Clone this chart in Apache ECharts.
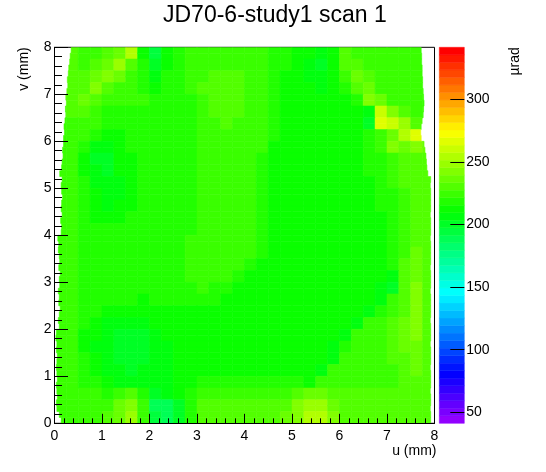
<!DOCTYPE html>
<html>
<head>
<meta charset="utf-8">
<script src="https://cdn.jsdelivr.net/npm/echarts@6/dist/echarts.min.js"></script>
<style>
html, body { margin: 0; padding: 0; background: #fff; }
#main { width: 546px; height: 472px; }
</style>
</head>
<body>
<div id="main"></div>
<script>
// cell size of the map, mm
var cellSize = 0.25;
// colour scale range (µrad) and number of palette levels
var zMin = 41.2;
var zMax = 341.5;
var nLevels = 50;
var zTicks = [50, 100, 150, 200, 250, 300];

// measured deflection, µrad; first row is the top (v = 7.75..8), columns u = 0..8
var rows = [
  [228,228,226,226,228,236,252,210,196,210,218,222,226,226,226,226,226,226,220,220,214,210,208,214,228,222,222,222,222,222,222,222],
  [228,228,226,228,236,246,232,218,200,214,220,222,226,226,226,226,226,226,220,216,212,206,200,210,232,228,222,222,222,222,222,222],
  [228,228,228,234,244,234,224,220,208,216,220,222,226,228,230,228,226,226,220,214,212,208,204,212,222,236,228,222,222,222,222,222],
  [228,228,232,242,232,226,222,220,214,218,220,222,228,232,232,230,226,224,218,214,212,210,208,212,218,232,238,226,222,222,222,222],
  [228,228,238,230,224,222,222,222,218,220,220,220,226,230,232,230,226,224,218,212,212,212,212,212,214,220,240,236,224,224,224,224],
  [226,228,230,224,220,220,220,220,220,220,220,220,224,228,230,228,224,222,216,212,212,212,212,212,212,214,204,258,240,228,224,224],
  [226,226,226,222,218,218,218,218,220,220,220,220,224,226,228,226,224,222,216,212,212,212,212,212,212,210,202,266,258,248,232,232],
  [226,226,222,216,212,214,216,218,220,220,220,220,224,224,224,224,224,222,216,212,212,212,212,212,212,214,218,226,236,252,264,240],
  [224,224,218,208,206,212,216,218,220,220,220,220,224,224,224,224,224,222,212,212,212,212,212,212,212,212,216,222,240,234,244,236],
  [224,224,214,202,200,210,214,218,220,220,220,220,224,224,224,224,224,220,212,212,212,212,212,212,212,212,216,220,226,228,232,230],
  [224,224,214,204,202,210,214,218,220,220,220,220,226,226,226,226,226,220,212,212,212,212,212,212,212,212,216,220,224,228,230,230],
  [224,224,216,206,204,208,214,218,220,220,220,220,226,226,226,226,226,220,212,212,212,212,212,212,212,212,214,218,222,228,232,230],
  [224,224,218,210,206,208,212,216,220,220,220,220,226,226,226,226,226,220,212,212,212,212,212,212,212,212,212,216,220,226,230,230],
  [222,222,218,212,208,210,214,218,220,220,220,220,226,226,226,226,226,220,212,212,212,212,212,212,212,212,212,216,220,226,230,230],
  [222,222,218,214,212,212,216,218,220,220,220,220,226,226,226,226,226,220,212,212,212,212,212,212,212,212,212,214,218,226,232,230],
  [222,222,218,218,216,216,216,216,220,220,220,220,226,226,226,226,226,220,212,212,212,212,212,212,212,212,212,212,218,226,232,230],
  [222,222,218,218,218,218,218,218,220,220,220,224,226,226,226,226,226,220,212,212,212,212,212,212,212,212,212,212,216,226,232,230],
  [222,222,218,218,218,218,218,218,220,220,220,224,226,226,226,226,224,218,212,212,212,212,212,212,212,212,212,212,216,226,234,230],
  [222,222,218,218,218,218,218,218,220,220,220,224,226,226,226,224,218,212,212,212,212,212,212,212,212,212,212,212,218,228,236,232],
  [222,222,218,218,218,218,218,218,218,218,218,222,226,226,222,216,212,212,212,212,212,212,212,212,212,212,212,210,206,230,238,232],
  [222,222,218,218,218,218,218,218,218,218,218,220,222,220,216,212,212,212,212,212,212,212,212,212,212,212,212,208,198,232,240,232],
  [222,222,216,216,216,216,216,214,216,216,216,218,218,216,212,212,212,212,212,212,212,212,212,212,212,212,210,204,222,232,240,232],
  [222,222,216,216,212,210,210,210,212,214,214,212,212,212,212,212,212,212,212,212,212,212,212,212,212,212,204,220,226,232,240,232],
  [222,222,216,212,208,206,206,208,210,212,212,212,212,212,212,212,212,212,212,212,212,212,212,212,212,204,222,226,228,234,240,232],
  [222,222,214,210,206,202,200,202,206,210,212,212,212,212,212,212,212,212,212,212,212,212,212,212,204,222,226,226,228,236,240,232],
  [222,222,214,208,204,200,198,200,204,208,210,212,212,212,212,212,212,212,212,212,212,212,212,206,218,226,226,226,228,234,238,232],
  [222,222,216,210,204,202,200,202,206,208,212,212,212,212,212,212,212,212,212,212,212,212,212,208,226,226,226,226,228,232,236,232],
  [222,222,218,212,206,204,202,204,208,208,210,214,214,214,214,214,214,214,214,214,214,214,208,222,226,226,226,226,226,230,234,230],
  [222,222,220,216,210,208,206,206,206,206,210,214,216,216,216,216,216,216,216,216,216,212,224,226,226,226,226,226,226,228,230,230],
  [222,222,222,222,220,226,230,216,202,204,210,216,224,224,224,224,224,224,224,224,232,236,234,232,230,230,230,230,230,230,230,230],
  [224,224,224,224,226,236,244,222,190,186,200,216,230,230,230,230,230,230,230,232,240,250,248,238,230,230,230,230,230,230,230,230],
  [224,224,224,224,228,238,246,224,192,188,202,218,230,230,230,230,230,230,230,234,244,256,252,240,230,230,230,230,230,230,230,230]
];

// scanned extent in u (mm) for each 0.125 mm strip of v, from v = 0 upwards
var leftEdge = [
  0.14,0.10,0.05,0.04,0.06,0.05,0.04,0.06,0.05,0.04,0.05,0.06,0.04,0.05,0.03,0.04,
  0.10,0.08,0.10,0.12,0.09,0.10,0.08,0.11,0.10,0.12,0.09,0.11,0.10,0.08,0.09,0.07,
  0.14,0.15,0.13,0.16,0.14,0.15,0.17,0.15,0.14,0.16,0.11,0.15,0.16,0.18,0.17,0.19,
  0.19,0.21,0.20,0.22,0.24,0.23,0.25,0.24,0.26,0.28,0.27,0.29,0.30,0.32,0.33,0.35
];
var rightEdge = [
  7.92,7.92,7.91,7.92,7.92,7.91,7.92,7.92,7.92,7.91,7.92,7.92,7.92,7.91,7.92,7.92,
  7.92,7.91,7.92,7.92,7.92,7.92,7.91,7.92,7.92,7.92,7.91,7.92,7.92,7.92,7.92,7.91,
  7.92,7.92,7.92,7.91,7.92,7.92,7.92,7.92,7.91,7.92,7.86,7.84,7.83,7.82,7.80,7.78,
  7.72,7.71,7.72,7.74,7.76,7.77,7.78,7.77,7.76,7.75,7.75,7.74,7.74,7.73,7.73,7.72
];

// ROOT "pretty" palette: hue 280 -> 0, full saturation, lightness 0.5
function hueColor(h) {
  function f(n) {
    var k = (n + h / 30) % 12;
    return 0.5 - 0.5 * Math.max(-1, Math.min(k - 3, 9 - k, 1));
  }
  return 'rgb(' + Math.round(255 * f(0)) + ',' + Math.round(255 * f(8)) + ',' + Math.round(255 * f(4)) + ')';
}
var palette = [];
for (var i = 0; i < nLevels; i++) {
  palette.push(i < nLevels - 1 ? hueColor(280 - (i + 1) * 280 / nLevels) : 'rgb(255,0,0)');
}
var step = (zMax - zMin) / nLevels;
var pieces = [];
var bands = [];
for (var i = 0; i < nLevels; i++) {
  var lo = zMin + i * step, hi = zMin + (i + 1) * step;
  pieces.push({ gte: i === 0 ? -1e9 : lo, lt: i === nLevels - 1 ? 1e9 : hi, color: palette[i] });
  bands.push([0.5, lo, hi, i]);
}

var cells = [];
var nRows = rows.length;
for (var r = 0; r < nRows; r++) {
  var vIdx = nRows - 1 - r;
  for (var c = 0; c < rows[r].length; c++) {
    cells.push([(c + 0.5) * cellSize, (vIdx + 0.5) * cellSize, rows[r][c], vIdx]);
  }
}

var font = 'Liberation Sans, Arial, Helvetica, sans-serif';
var myChart = echarts.init(document.getElementById('main'));

var option = {
  animation: false,
  backgroundColor: '#fff',
  title: {
    text: 'JD70-6-study1 scan 1',
    left: 163,
    top: 4,
    padding: 0,
    textStyle: { fontSize: 23, fontWeight: 'normal', color: '#000', fontFamily: font }
  },
  grid: [
    { left: 54.5, top: 47.3, width: 380, height: 376, show: true, borderColor: '#000', borderWidth: 1,
      backgroundColor: '#fff', containLabel: false, outerBoundsMode: 'none' },
    { left: 439.3, top: 47.3, width: 25, height: 376, containLabel: false, outerBoundsMode: 'none' }
  ],
  visualMap: {
    type: 'piecewise',
    show: false,
    seriesIndex: 0,
    dimension: 2,
    pieces: pieces
  },
  xAxis: [
    {
      type: 'value', gridIndex: 0, min: 0, max: 8, interval: 1, z: 10,
      name: 'u (mm)', nameLocation: 'end', nameGap: 2, nameMoveOverlap: false,
      nameTextStyle: { fontSize: 14, color: '#000', fontFamily: font, align: 'right', verticalAlign: 'top', padding: [21, 0, 0, 0] },
      axisLine: { show: true, onZero: false, lineStyle: { color: '#000', width: 1 } },
      axisTick: { show: true, inside: true, length: 9.5, lineStyle: { color: '#000', width: 1 } },
      minorTick: { show: true, splitNumber: 5, length: 5, lineStyle: { color: '#000', width: 1 } },
      axisLabel: { fontSize: 14, color: '#000', fontFamily: font, margin: 6 },
      splitLine: { show: false }
    },
    { type: 'value', gridIndex: 1, min: 0, max: 1, show: false }
  ],
  yAxis: [
    {
      type: 'value', gridIndex: 0, min: 0, max: 8, interval: 1, z: 10,
      axisLine: { show: true, onZero: false, lineStyle: { color: '#000', width: 1 } },
      axisTick: { show: true, inside: true, length: 13.5, lineStyle: { color: '#000', width: 1 } },
      minorTick: { show: true, splitNumber: 5, length: 7.5, lineStyle: { color: '#000', width: 1 } },
      axisLabel: { fontSize: 14, color: '#000', fontFamily: font, margin: 3 },
      splitLine: { show: false }
    },
    {
      type: 'value', gridIndex: 1, min: zMin, max: zMax, position: 'right', z: 10,
      axisLine: { show: false, onZero: false },
      axisTick: { show: true, inside: true, length: 14, customValues: zTicks, lineStyle: { color: '#000', width: 1 } },
      axisLabel: { fontSize: 14, color: '#000', fontFamily: font, margin: 2, customValues: zTicks },
      splitLine: { show: false }
    }
  ],
  graphic: [
    { type: 'text', x: 24.5, y: 47.3, rotation: Math.PI / 2, z: 10,
      style: { text: 'v (mm)', fill: '#000', fontSize: 14, fontFamily: font,
               align: 'right', verticalAlign: 'middle', textAlign: 'right', textVerticalAlign: 'middle' } },
    { type: 'text', x: 515, y: 47.3, rotation: Math.PI / 2, z: 10,
      style: { text: 'µrad', fill: '#000', fontSize: 14, fontFamily: font,
               align: 'right', verticalAlign: 'middle', textAlign: 'right', textVerticalAlign: 'middle' } }
  ],
  series: [
    {
      type: 'custom',
      xAxisIndex: 0, yAxisIndex: 0,
      clip: true,
      z: 1,
      encode: { x: 0, y: 1 },
      data: cells,
      renderItem: function (params, api) {
        var uc = api.value(0), vc = api.value(1), vIdx = api.value(3);
        var u0 = uc - cellSize / 2, v0 = vc - cellSize / 2;
        var color = api.visual('color');
        var children = [];
        for (var h = 0; h < 2; h++) {
          var bin = vIdx * 2 + h;
          var a = Math.max(u0, leftEdge[bin]);
          var b = Math.min(u0 + cellSize, rightEdge[bin]);
          if (b <= a) continue;
          var p0 = api.coord([a, v0 + (h + 1) * cellSize / 2]);
          var p1 = api.coord([b, v0 + h * cellSize / 2]);
          children.push({
            type: 'rect',
            shape: { x: p0[0], y: p0[1], width: p1[0] - p0[0], height: p1[1] - p0[1] },
            style: { fill: color, stroke: color, lineWidth: 0.6 }
          });
        }
        return { type: 'group', children: children };
      }
    },
    {
      type: 'custom',
      xAxisIndex: 1, yAxisIndex: 1,
      z: 1,
      encode: { x: 0, y: [1, 2] },
      data: bands,
      renderItem: function (params, api) {
        var p0 = api.coord([0, api.value(2)]);
        var p1 = api.coord([1, api.value(1)]);
        var color = palette[api.value(3)];
        return {
          type: 'rect',
          shape: { x: p0[0], y: p0[1], width: p1[0] - p0[0], height: p1[1] - p0[1] },
          style: { fill: color, stroke: color, lineWidth: 0.5 }
        };
      }
    }
  ]
};

myChart.setOption(option);
</script>
</body>
</html>
